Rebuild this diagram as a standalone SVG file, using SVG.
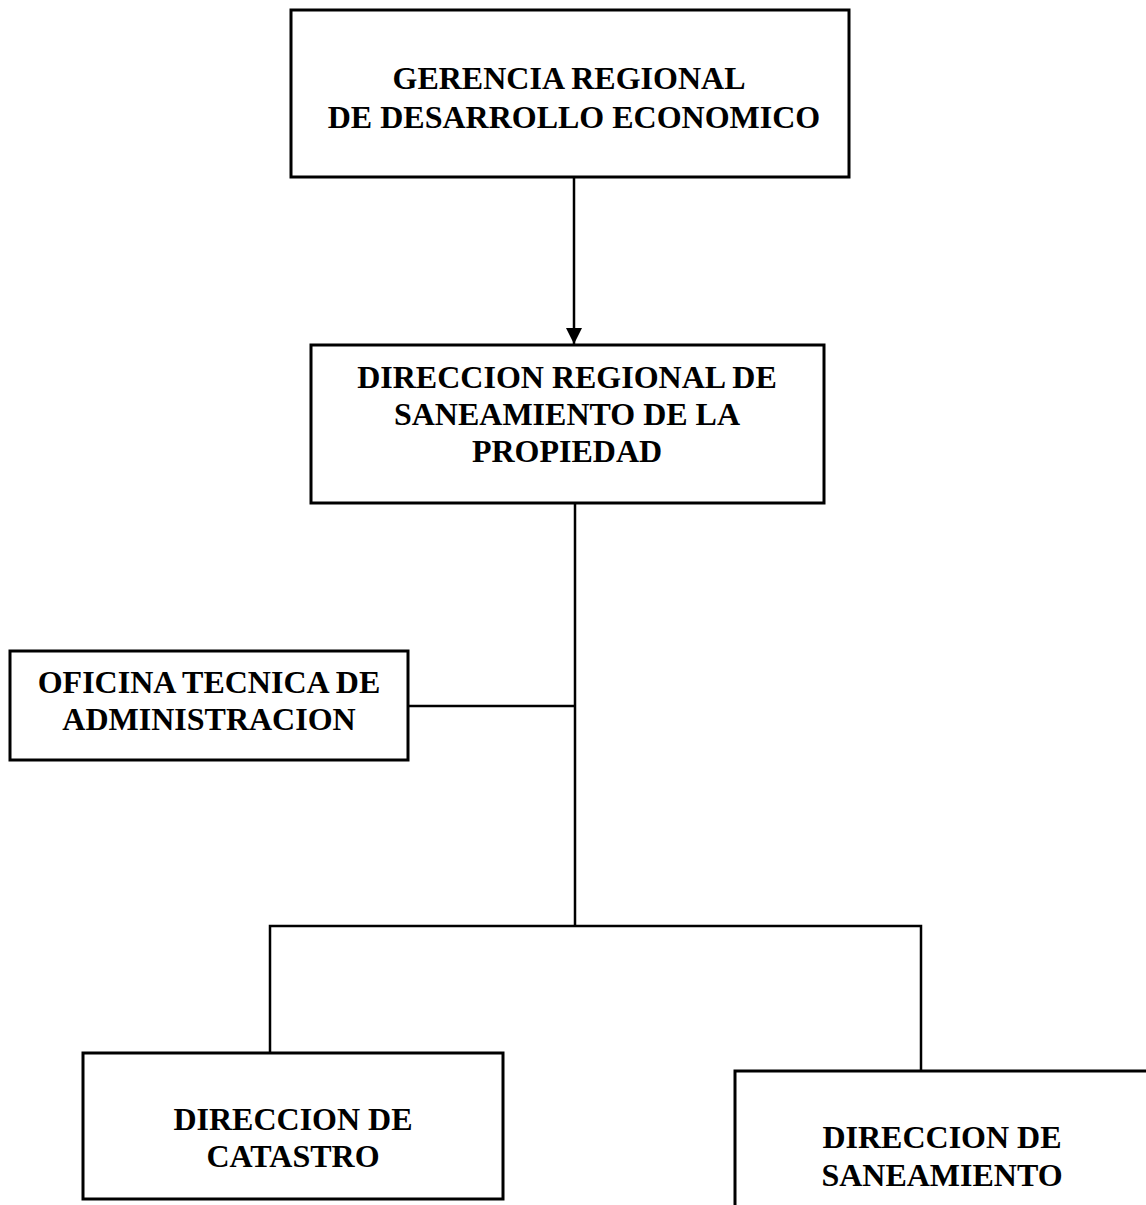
<svg xmlns="http://www.w3.org/2000/svg" width="1146" height="1205" viewBox="0 0 1146 1205">
<style>
.box{fill:#fff;stroke:#000;stroke-width:3}
.t{font-family:"Liberation Serif","Times New Roman",serif;font-weight:bold;font-size:32px;fill:#000;text-anchor:middle}
.c{stroke:#000;stroke-width:2.5;fill:none}
</style>
<defs>
<marker id="ah" markerWidth="16" markerHeight="16" refX="16" refY="8" orient="auto" markerUnits="userSpaceOnUse" viewBox="0 0 16 16">
<path d="M0,0 L16,8 L0,16 Z" fill="#000"/>
</marker>
</defs>
<rect width="1146" height="1205" fill="#fff"/>
<g id="connectors">
<line class="c" x1="574" y1="177" x2="574" y2="344" marker-end="url(#ah)"/>
<line class="c" x1="575" y1="503" x2="575" y2="926"/>
<line class="c" x1="408" y1="706" x2="575" y2="706"/>
<polyline class="c" points="270,1053 270,926 921,926 921,1071"/>
</g>
<g id="n1">
<rect class="box" x="291" y="10" width="558" height="167"/>
<text class="t" x="569" y="89">GERENCIA REGIONAL</text>
<text class="t" x="574" y="128">DE DESARROLLO ECONOMICO</text>
</g>
<g id="n2">
<rect class="box" x="311" y="345" width="513" height="158"/>
<text class="t" x="567" y="388">DIRECCION REGIONAL DE</text>
<text class="t" x="567" y="425">SANEAMIENTO DE LA</text>
<text class="t" x="567" y="462">PROPIEDAD</text>
</g>
<g id="n3">
<rect class="box" x="10" y="651" width="398" height="109"/>
<text class="t" x="209" y="693">OFICINA TECNICA DE</text>
<text class="t" x="209" y="730">ADMINISTRACION</text>
</g>
<g id="n4">
<rect class="box" x="83" y="1053" width="420" height="146"/>
<text class="t" x="293" y="1130">DIRECCION DE</text>
<text class="t" x="293" y="1167">CATASTRO</text>
</g>
<g id="n5">
<rect class="box" x="735" y="1071" width="430" height="160"/>
<text class="t" x="942" y="1148">DIRECCION DE</text>
<text class="t" x="942" y="1186">SANEAMIENTO</text>
</g>
</svg>
